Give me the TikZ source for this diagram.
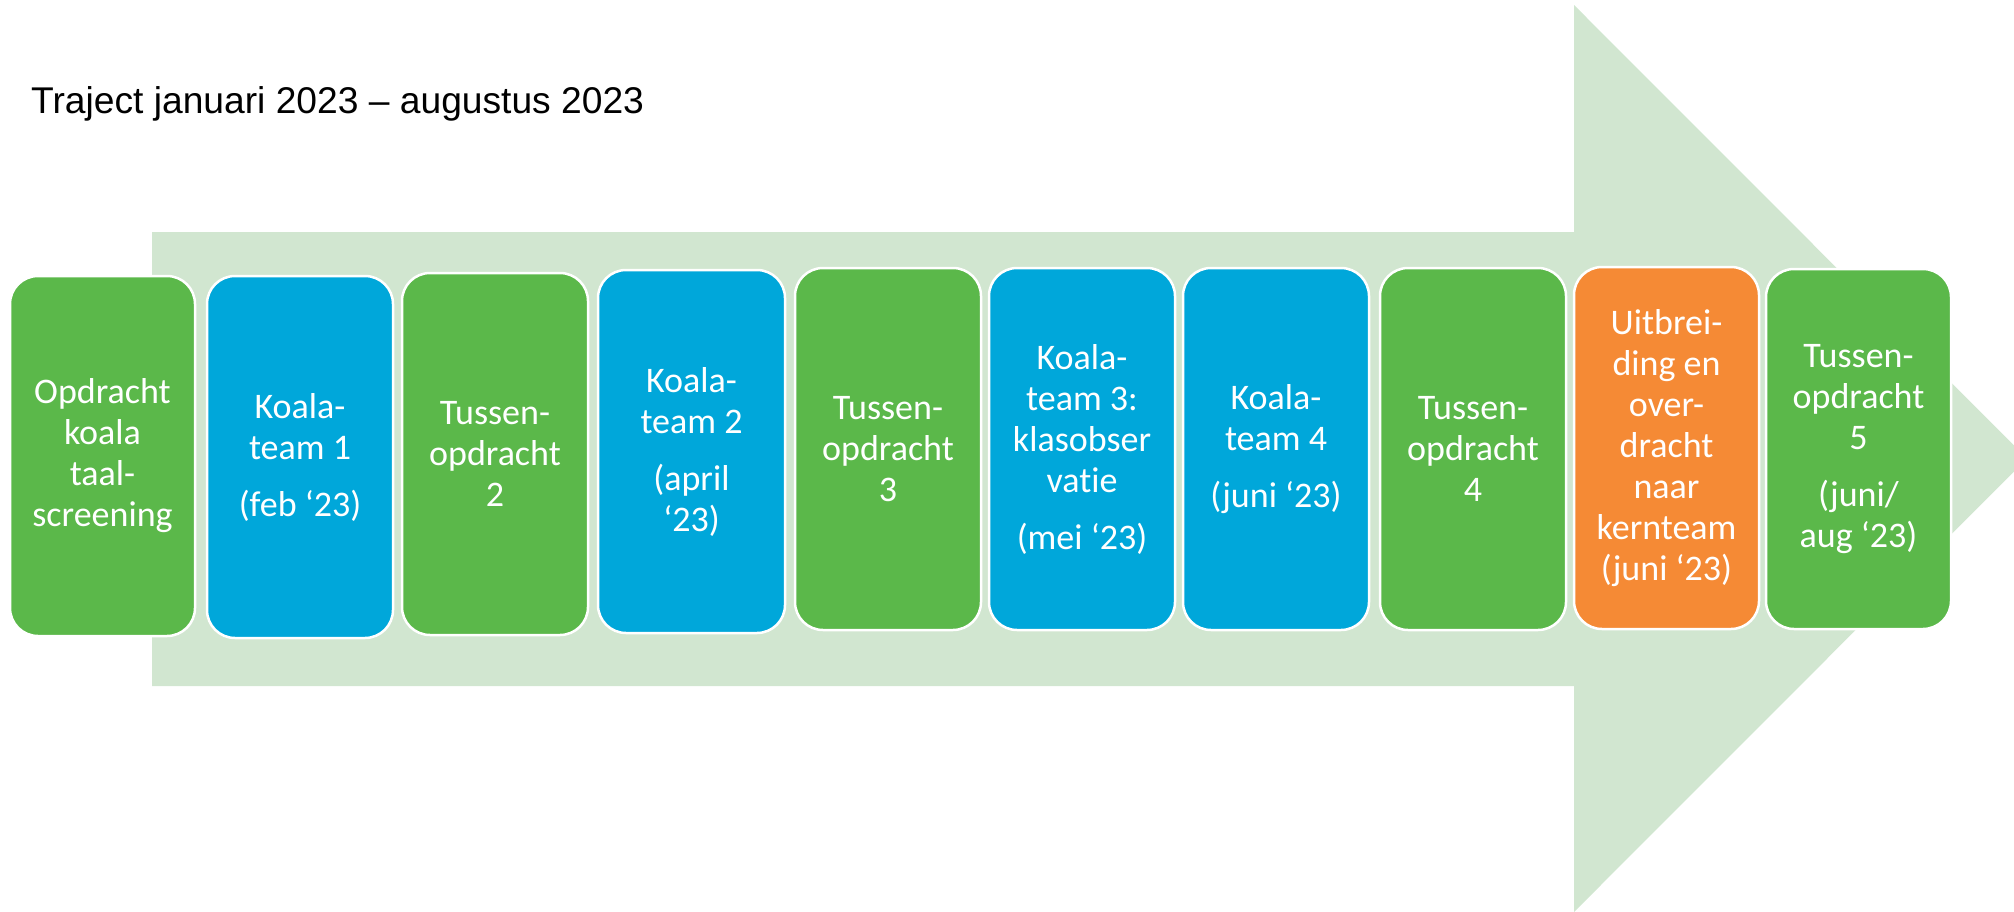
\documentclass[tikz,border=0pt]{standalone}
\usepackage{fontspec}
\setmainfont{Carlito}[Ligatures=NoCommon]
\newfontfamily\titlefont{Liberation Sans}
\definecolor{boxgreen}{HTML}{5BB84A}
\definecolor{boxblue}{HTML}{00A7DA}
\definecolor{boxorange}{HTML}{F58A35}
\definecolor{arrowgreen}{HTML}{D1E6D0}
\tikzset{
  stepbox/.style={draw=white, line width=2.5pt, rounded corners=28pt, text=white,
    align=center, inner sep=0pt,
    font=\fontsize{36}{41}\selectfont},
}
\newcommand{\stepnode}[7]{%
  \node[stepbox, fill=#6, minimum width={#4-#2}, minimum height={#5-#3}]
    (#1) at ({(#2+#4)/2},{(#3+#5)/2}) {#7};}
\begin{document}
\begin{tikzpicture}[x=1pt,y=-1pt]
\useasboundingbox (0,0) rectangle (2014,911);
\clip (0,0) rectangle (2014,911);
\fill[arrowgreen] (152,232) -- (1574,232) -- (1574,5) -- (2027,458.5) -- (1574,912) -- (1574,686) -- (152,686) -- cycle;
\node[anchor=base west, inner sep=0pt, font=\titlefont\fontsize{37.2}{44}\selectfont] (title) at (31,113) {Traject januari 2023 – augustus 2023};
\stepnode{s1}{10}{276}{195}{636}{boxgreen}{Opdracht\\koala\\taal-\\screening}
\stepnode{s2}{207}{276}{393}{638}{boxblue}{Koala-\\team 1\\[16pt](feb ‘23)}
\stepnode{s3}{402}{273}{588}{635}{boxgreen}{Tussen-\\opdracht\\2}
\stepnode{s4}{598}{270}{785}{633}{boxblue}{Koala-\\team 2\\[16pt](april\\‘23)}
\stepnode{s5}{795}{268}{981}{630}{boxgreen}{Tussen-\\opdracht\\3}
\stepnode{s6}{989}{268}{1175}{630}{boxblue}{Koala-\\team 3:\\klasobser\\vatie\\[16pt](mei ‘23)}
\stepnode{s7}{1183}{268}{1369}{630}{boxblue}{Koala-\\team 4\\[16pt](juni ‘23)}
\stepnode{s8}{1380}{268}{1566}{630}{boxgreen}{Tussen-\\opdracht\\4}
\stepnode{s9}{1574}{267}{1759}{629}{boxorange}{Uitbrei-\\ding en\\over-\\dracht\\naar\\kernteam\\(juni ‘23)}
\stepnode{s10}{1766}{269}{1951}{629}{boxgreen}{Tussen-\\opdracht\\5\\[16pt](juni/\\aug ‘23)}
\end{tikzpicture}
\end{document}
